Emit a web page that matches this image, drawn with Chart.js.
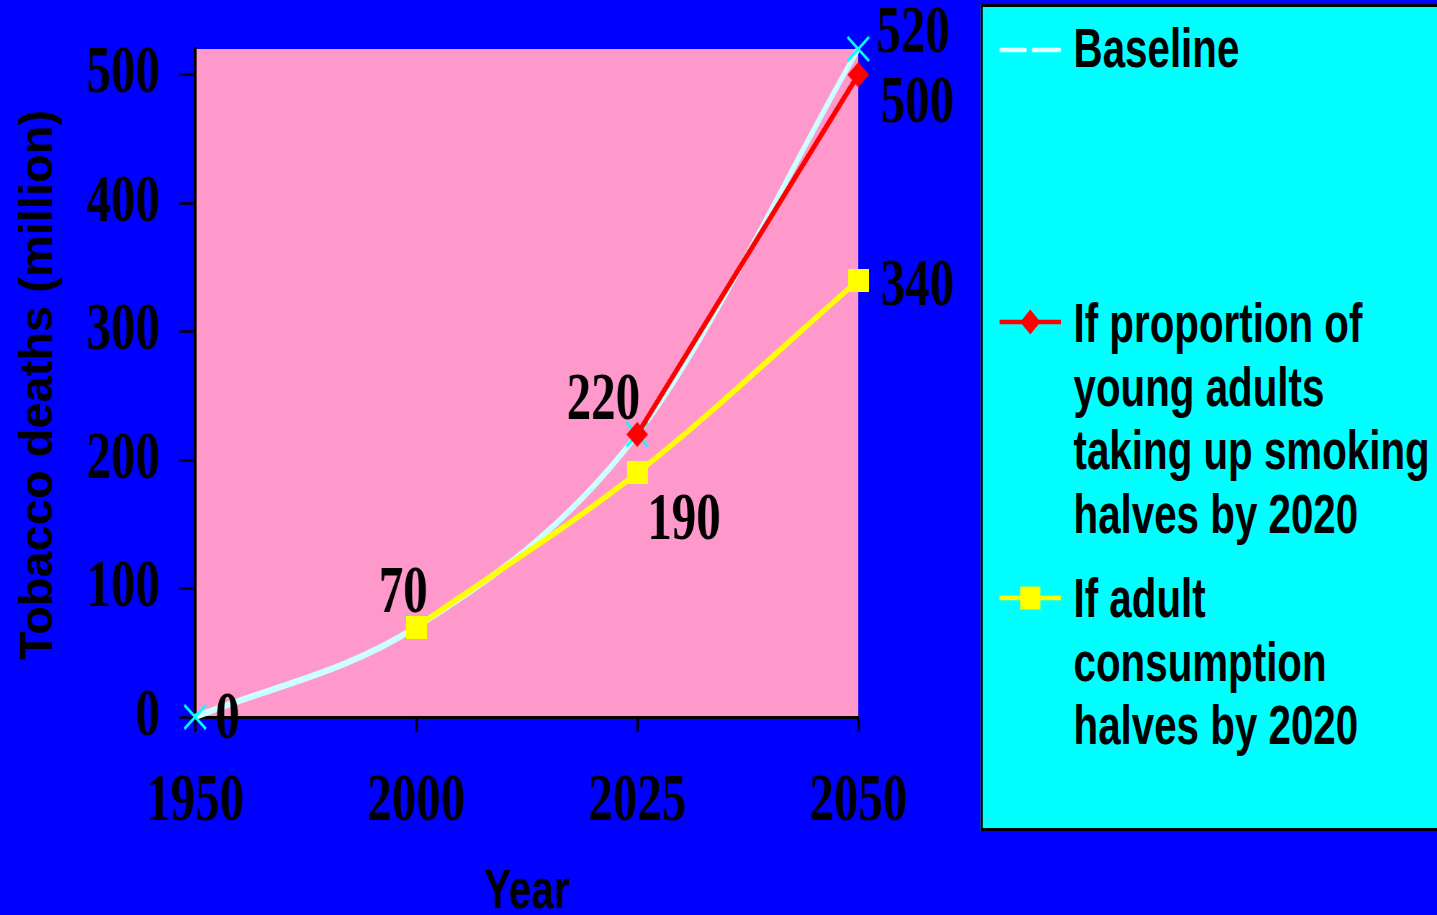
<!DOCTYPE html>
<html>
<head>
<meta charset="utf-8">
<title>Tobacco deaths</title>
<script src="https://cdn.jsdelivr.net/npm/chart.js@4.4.1/dist/chart.umd.min.js"></script>
<style>
  html, body { margin: 0; padding: 0; width: 1437px; height: 915px; overflow: hidden; background: #0000FF; }
  /* the slide uses narrow type everywhere: lay it out wide, then squeeze horizontally */
  #stage { position: absolute; left: 0; top: 0; width: 1996px; height: 915px; transform: scaleX(0.72); transform-origin: 0 0; }
  #chart { position: absolute; left: 0; top: 0; width: 1354px; height: 915px; }
  #legend {
    position: absolute; left: 1362px; top: 4px; width: 660px; height: 827px;
    box-sizing: border-box; background: #00FFFF; border: 3px solid #000;
    font: bold 56px "Liberation Sans", Arial, sans-serif; color: #000;
  }
  .leg-mark { position: absolute; left: 23px; }
  .leg-text { position: absolute; left: 126px; line-height: 63.5px; white-space: pre; }
  #ytitle {
    position: absolute; left: -264px; top: 357px; width: 600px; height: 56px;
    font: bold 47px "Liberation Sans", Arial, sans-serif; line-height: 56px;
    text-align: center; color: #000; white-space: nowrap; transform: rotate(-90deg);
  }
</style>
</head>
<body>
<div id="stage">
  <canvas id="chart" width="1354" height="915"></canvas>
  <div id="legend"></div>
</div>
<div id="ytitle">Tobacco deaths (million)</div>

<script>
// ── Data ──────────────────────────────────────────────────
const YEARS = ['1950', '2000', '2025', '2050'];
const BASELINE = [0, 70, 220, 520];
const HALF_UPTAKE = [null, null, 220, 500];
const HALF_CONSUMPTION = [null, 70, 190, 340];
const Y_TICKS = [0, 100, 200, 300, 400, 500];

const SERIES_NAMES = [
  'Baseline',
  'If proportion of\nyoung adults\ntaking up smoking\nhalves by 2020',
  'If adult\nconsumption\nhalves by 2020',
];

// value label placement per point: [dx, dy, align], null = no label
const LABEL_POS = [
  [null, null, [-47, -33, 'center'], [31, 30, 'left']],        // uptake
  [null, null, [65, 49, 'center'], [31, 7, 'left']],           // consumption
  [[28, 3, 'left'], [-18, -33, 'center'], null, [25, -15, 'left']], // baseline
];

const SERIF = '"Liberation Serif", "Times New Roman", serif';
const SANS = '"Liberation Sans", Arial, sans-serif';

// ── Point markers (drawn wide so they come out square) ────
function marker(w, h, draw) {
  const c = document.createElement('canvas');
  c.width = w; c.height = h;
  draw(c.getContext('2d'), w, h);
  return c;
}

const CROSS = marker(32, 26, (g, w, h) => {
  g.strokeStyle = '#00FFFF'; g.lineWidth = 3;
  g.beginPath();
  g.moveTo(1, 1); g.lineTo(w - 1, h - 1);
  g.moveTo(w - 1, 1); g.lineTo(1, h - 1);
  g.stroke();
});

const DIAMOND = marker(30, 25, (g, w, h) => {
  g.fillStyle = '#FF0000';
  g.beginPath();
  g.moveTo(w / 2, 0); g.lineTo(w, h / 2); g.lineTo(w / 2, h); g.lineTo(0, h / 2);
  g.closePath(); g.fill();
});

const SQUARE = marker(29, 23, (g, w, h) => {
  g.fillStyle = '#FFFF00';
  g.fillRect(0, 0, w, h);
});

// ── Plugins ───────────────────────────────────────────────
const plotBg = {
  id: 'plotBg',
  beforeDraw(chart) {
    const { ctx, chartArea: a } = chart;
    ctx.save();
    ctx.fillStyle = '#FF99CC';
    ctx.fillRect(a.left, a.top, a.right - a.left, a.bottom - a.top);
    ctx.restore();
  },
};

const valueLabels = {
  id: 'valueLabels',
  afterDatasetsDraw(chart) {
    const ctx = chart.ctx;
    ctx.save();
    ctx.font = 'bold 68px ' + SERIF;
    ctx.fillStyle = '#000';
    ctx.textBaseline = 'middle';
    chart.data.datasets.forEach((ds, i) => {
      chart.getDatasetMeta(i).data.forEach((pt, j) => {
        const pos = LABEL_POS[i][j];
        if (!pos || ds.data[j] == null) return;
        ctx.textAlign = pos[2];
        ctx.fillText(String(ds.data[j]), pt.x + pos[0], pt.y + pos[1]);
      });
    });
    ctx.restore();
  },
};

// ── Chart ─────────────────────────────────────────────────
new Chart(document.getElementById('chart'), {
  type: 'line',
  data: {
    labels: YEARS,
    datasets: [
      {
        label: SERIES_NAMES[1], data: HALF_UPTAKE,
        borderColor: '#FF0000', borderWidth: 6,
        pointStyle: DIAMOND, pointRadius: 12, order: 1, clip: false,
      },
      {
        label: SERIES_NAMES[2], data: HALF_CONSUMPTION,
        borderColor: '#FFFF00', borderWidth: 6, cubicInterpolationMode: 'monotone',
        pointStyle: SQUARE, pointRadius: 12, order: 2, clip: false,
      },
      {
        label: SERIES_NAMES[0], data: BASELINE,
        borderColor: '#CCFFFF', borderWidth: 6.5, cubicInterpolationMode: 'monotone',
        pointStyle: CROSS, pointRadius: 12, order: 3, clip: false,
      },
    ],
  },
  options: {
    responsive: false, devicePixelRatio: 1, animation: false,
    layout: { padding: { left: 0, right: 162, top: 49, bottom: 0 } },
    plugins: { legend: { display: false }, tooltip: { enabled: false } },
    scales: {
      x: {
        offset: false,
        grid: { drawOnChartArea: false, tickLength: 15, tickWidth: 3.5, tickColor: '#000' },
        border: { color: '#000', width: 3 },
        ticks: {
          color: '#000', padding: 36, maxRotation: 0, autoSkip: false,
          font: { family: SERIF, size: 68, weight: 'bold', lineHeight: 1 },
        },
        title: {
          display: true, text: 'Year', color: '#000', padding: { top: 0, bottom: -6 },
          font: { family: SANS, size: 56, weight: 'bold', lineHeight: 1 },
        },
        afterFit(s) { s.height = 198; },
      },
      y: {
        min: 0, max: 520,
        afterBuildTicks(s) { s.ticks = Y_TICKS.map(v => ({ value: v })); },
        grid: { drawOnChartArea: false, tickLength: 22, tickWidth: 2.5, tickColor: '#000' },
        border: { color: '#000', width: 4 },
        ticks: {
          color: '#000', padding: 27,
          font: { family: SERIF, size: 68, weight: 'bold', lineHeight: 1 },
        },
        afterFit(s) { s.width = 271; s.paddingTop = 0; s.paddingBottom = 0; },
      },
    },
  },
  plugins: [plotBg, valueLabels],
});

// ── Legend ────────────────────────────────────────────────
function renderLegend() {
  const el = document.getElementById('legend');
  const marks = [
    `<line x1="2" y1="15" x2="36" y2="15" stroke="#DDFFFF" stroke-width="4.5" stroke-linecap="round"/>
     <line x1="47" y1="15" x2="84" y2="15" stroke="#DDFFFF" stroke-width="4.5" stroke-linecap="round"/>`,
    `<line x1="0" y1="15" x2="86" y2="15" stroke="#FF0000" stroke-width="4.5"/>
     <polygon points="43,2.5 57,15 43,27.5 29,15" fill="#FF0000"/>`,
    `<line x1="0" y1="15" x2="86" y2="15" stroke="#FFFF00" stroke-width="4.5"/>
     <rect x="29" y="3.5" width="28" height="23" fill="#FFFF00"/>`,
  ];
  const markTop = [27.5, 300, 576];
  const textTop = [9, 284, 559];
  SERIES_NAMES.forEach((name, i) => {
    el.innerHTML += `
      <svg class="leg-mark" style="top:${markTop[i]}px" width="86" height="30" viewBox="0 0 86 30">${marks[i]}</svg>
      <div class="leg-text" style="top:${textTop[i]}px">${name}</div>`;
  });
}

renderLegend();
</script>
</body>
</html>
